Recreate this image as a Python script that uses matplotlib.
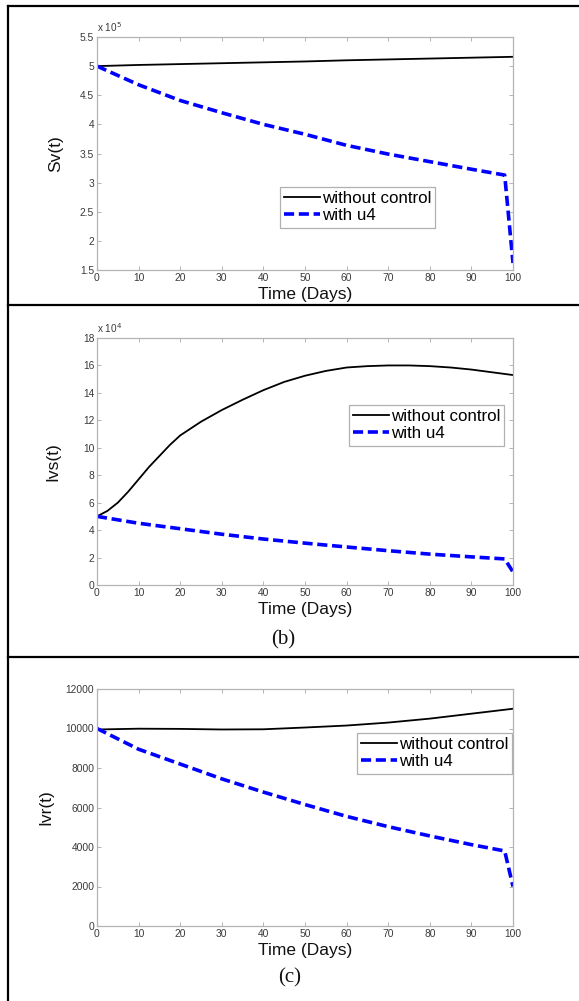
import matplotlib
matplotlib.use("Agg")
import matplotlib.pyplot as plt
from matplotlib.lines import Line2D
from matplotlib.ticker import FuncFormatter

plt.rcParams['font.family'] = ['Liberation Sans', 'DejaVu Sans']

# ---------------- data ----------------
t_nc1 = [0, 10, 20, 30, 40, 50, 60, 70, 80, 90, 100]
sv_nc = [5.00e5, 5.02e5, 5.035e5, 5.05e5, 5.065e5, 5.08e5, 5.10e5, 5.115e5, 5.13e5, 5.145e5, 5.16e5]
t_u1 = [0, 10, 20, 30, 40, 50, 60, 70, 80, 90, 98, 100]
sv_u4 = [5.00e5, 4.68e5, 4.41e5, 4.20e5, 4.00e5, 3.83e5, 3.64e5, 3.49e5, 3.36e5, 3.23e5, 3.13e5, 1.62e5]

t_nc2 = [0, 2.5, 5, 7.5, 10, 12.5, 15, 17.5, 20, 25, 30, 35, 40, 45, 50, 55, 60, 65, 70, 75, 80, 85, 90, 95, 100]
ivs_nc = [5.0e4, 5.4e4, 6.0e4, 6.8e4, 7.7e4, 8.6e4, 9.4e4, 10.2e4, 10.9e4, 11.9e4, 12.75e4, 13.5e4,
          14.2e4, 14.8e4, 15.25e4, 15.6e4, 15.85e4, 15.95e4, 16.0e4, 16.0e4, 15.95e4, 15.85e4,
          15.7e4, 15.5e4, 15.3e4]
t_u2 = [0, 10, 20, 30, 40, 50, 60, 70, 80, 90, 98, 100]
ivs_u4 = [5.0e4, 4.5e4, 4.1e4, 3.7e4, 3.35e4, 3.05e4, 2.77e4, 2.5e4, 2.25e4, 2.05e4, 1.9e4, 0.95e4]

t_nc3 = [0, 10, 20, 30, 40, 50, 60, 70, 80, 90, 100]
ivr_nc = [9950, 9990, 9980, 9950, 9960, 10050, 10150, 10300, 10500, 10750, 11000]
t_u3 = [0, 10, 20, 30, 40, 50, 60, 70, 80, 90, 98, 100]
ivr_u4 = [10000, 8950, 8200, 7450, 6780, 6150, 5550, 5030, 4560, 4120, 3800, 2000]

xticks = [0, 10, 20, 30, 40, 50, 60, 70, 80, 90, 100]
yticks1 = [1.5e5, 2e5, 2.5e5, 3e5, 3.5e5, 4e5, 4.5e5, 5e5, 5.5e5]
yticks2 = [0, 2e4, 4e4, 6e4, 8e4, 10e4, 12e4, 14e4, 16e4, 18e4]
yticks3 = [0, 2000, 4000, 6000, 8000, 10000, 12000]
labels = ["without control", "with u4"]

W, H = 579, 1001
fig = plt.figure(figsize=(W / 100, H / 100), dpi=100)

def fx(px):
    return px / W

def fy(py):
    return 1 - py / H

spine_col = '#b4b4b4'
tick_col = '#3a3a3a'

def make_axes(top, bottom, ylabel, ylab_x):
    ax = fig.add_axes([fx(97), fy(bottom), fx(513) - fx(97), (bottom - top) / H])
    for s in ax.spines.values():
        s.set_color(spine_col)
        s.set_linewidth(0.9)
    ax.tick_params(direction='in', length=3, width=0.7, color=spine_col,
                   labelsize=7.4, labelcolor=tick_col, top=True, right=True, pad=2)
    ax.set_xlim(0, 100)
    ax.set_xticks(xticks)
    ax.set_xlabel("Time (Days)", fontsize=12.5, color='#111111')
    ax.xaxis.set_label_coords(0.5, -(17) / (bottom - top))
    ax.set_ylabel(ylabel, fontsize=12.5, color='#111111')
    ax.yaxis.set_label_coords((ylab_x - 97) / 416, 0.5)
    return ax

def style_legend(ax, xy):
    leg = ax.legend(labels, loc='upper left', bbox_to_anchor=xy, fontsize=12.2,
                    fancybox=False, framealpha=1, edgecolor='#b0b0b0',
                    handlelength=2.1, handletextpad=0.12, borderpad=0.25,
                    labelspacing=0.12, borderaxespad=0)
    leg.get_frame().set_linewidth(0.9)

dash = dict(color='#0000ff', lw=2.6, linestyle=(0, (2.8, 1.3)))
solid = dict(color='black', lw=1.3)

# Panel 1
ax1 = make_axes(37, 270, "Sv(t)", 63)
ax1.plot(t_nc1, sv_nc, **solid)
ax1.plot(t_u1, sv_u4, **dash)
ax1.set_ylim(1.5e5, 5.5e5)
ax1.set_yticks(yticks1)
ax1.yaxis.set_major_formatter(FuncFormatter(lambda v, p: f"{v/1e5:g}"))
ax1.text(0, 1.012, r"x 10$^{5}$", transform=ax1.transAxes, fontsize=7.2,
         color=tick_col, ha='left', va='bottom')
style_legend(ax1, ((280 - 97) / 416, (270 - 187) / 233))

# Panel 2
ax2 = make_axes(338, 585, "Ivs(t)", 60)
ax2.plot(t_nc2, ivs_nc, **solid)
ax2.plot(t_u2, ivs_u4, **dash)
ax2.set_ylim(0, 18e4)
ax2.set_yticks(yticks2)
ax2.yaxis.set_major_formatter(FuncFormatter(lambda v, p: f"{v/1e4:g}"))
ax2.text(0, 1.012, r"x 10$^{4}$", transform=ax2.transAxes, fontsize=7.2,
         color=tick_col, ha='left', va='bottom')
style_legend(ax2, ((349 - 97) / 416, (585 - 405) / 247))

# Panel 3
ax3 = make_axes(689, 926, "Ivr(t)", 53)
ax3.plot(t_nc3, ivr_nc, **solid)
ax3.plot(t_u3, ivr_u4, **dash)
ax3.set_ylim(0, 12000)
ax3.set_yticks(yticks3)
style_legend(ax3, ((357 - 97) / 416, (926 - 733) / 237))

# panel captions
fig.text(fx(283), fy(640), "(b)", fontsize=15, family='Liberation Serif',
         ha='center', va='center', color='#111111')
fig.text(fx(290), fy(978), "(c)", fontsize=15, family='Liberation Serif',
         ha='center', va='center', color='#111111')

# border lines
for y in (6, 305, 657):
    fig.add_artist(Line2D([fx(8), 1.0], [fy(y), fy(y)], transform=fig.transFigure,
                          color='black', lw=1.6))
fig.add_artist(Line2D([fx(8), fx(8)], [fy(6), 0.0], transform=fig.transFigure,
                      color='black', lw=1.6))

fig.savefig("out.png", dpi=100)
